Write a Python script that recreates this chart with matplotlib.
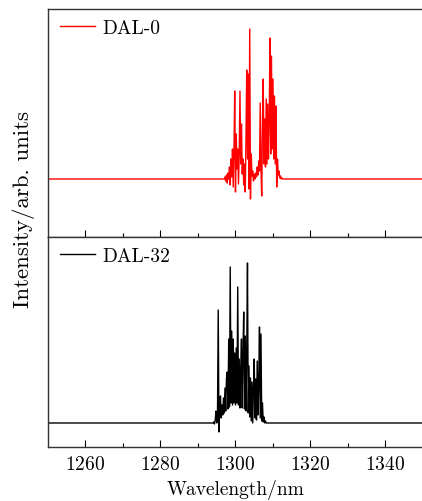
import numpy as np
import matplotlib
matplotlib.use("Agg")
import matplotlib.pyplot as plt

plt.rcParams['font.family'] = ['cmr10', 'DejaVu Serif']
plt.rcParams['mathtext.fontset'] = 'cm'
plt.rcParams['axes.formatter.use_mathtext'] = True
plt.rcParams['font.size'] = 14

# DAL-0: lasing cluster, sampled every 0.2 nm from 1297.0 nm (arb. units)
dal0_start = 1297.0
dal0_vals = [0, 2, -2, 4, -4, 6, 0, 12, -6, 20,
             2, 30, -8, 28, 88, -13, 45, 10, 30, -5,
             25, 88, 15, 55, 5, 20, -6, 15, -13, 40,
             109, 20, 105, -10, 150, -20, 25, 3, 8, -2,
             5, 0, 6, 2, 12, 4, 18, 8, 76, 10,
             -17, 55, 100, 15, 60, 12, 80, 15, 75, 20,
             60, 141, 25, 123, 30, 100, 20, 83, 15, 73,
             -8, 20, 4, 8, 1, 3, 0, 1, 0]

# DAL-32: lasing cluster, sampled every 0.2 nm from 1294.0 nm (arb. units)
dal32_start = 1294.0
dal32_vals = [0, 1, -1, 3, 12, 0, 5, 113, -9, 15,
              27, 5, 18, 8, 25, 10, 35, 12, 45, 51,
              14, 84, 16, 156, 20, 92, 18, 84, 20, 70,
              18, 75, 20, 136, 18, 64, 15, 55, 84, 15,
              70, 111, 14, 87, 12, 70, 160, 10, 57, 6,
              45, 2, 41, 0, 35, 64, 5, 44, 3, 62,
              8, 40, 96, 5, 89, 2, 20, 1, 6, 0,
              2, 0]

x_min, x_max = 1250, 1350
step = 0.2


def spectrum(start, vals):
    wl = np.round(start + step * np.arange(len(vals)), 1)
    wl = np.concatenate([[x_min], wl, [x_max]])
    y = np.concatenate([[0], vals, [0]])
    return wl, y


fig = plt.figure(figsize=(4.22, 5.02), dpi=100)
ax1 = fig.add_axes([0.1137, 0.5259, 0.8886, 0.4542])
ax2 = fig.add_axes([0.1137, 0.1076, 0.8886, 0.4183], sharex=ax1)

w0, y0 = spectrum(dal0_start, dal0_vals)
ax1.plot(w0, y0, color='red', lw=1.0, label='DAL-0')
ax1.set_ylim(-58, 170)

w32, y32 = spectrum(dal32_start, dal32_vals)
ax2.plot(w32, y32, color='black', lw=1.0, label='DAL-32')
ax2.set_ylim(-24, 186)

ax2.set_xlim(x_min, x_max)
ax2.set_xticks([1260, 1280, 1300, 1320, 1340])
ax2.set_xticks(np.arange(1260, 1350, 10), minor=True)

for ax in (ax1, ax2):
    ax.set_yticks([])
    ax.tick_params(axis='x', which='major', direction='in', length=5, width=0.8, pad=6)
    ax.tick_params(axis='x', which='minor', direction='in', length=3, width=0.8)
    for s in ax.spines.values():
        s.set_linewidth(1.0)
        s.set_color('#333333')
    ax.spines['right'].set_visible(False)
    ax.legend(loc='upper left', frameon=False, handlelength=1.8,
              handletextpad=0.4, borderaxespad=0.2, borderpad=0.3,
              bbox_to_anchor=(0.005, 1.0))

ax1.tick_params(axis='x', labelbottom=False)
ax2.set_xlabel('Wavelength/nm', labelpad=4)
fig.text(24 / 422, 1 - 210 / 502, 'Intensity/arb. units', rotation=90,
         ha='center', va='center', fontsize=16.5)

fig.savefig('out.png', dpi=100)
